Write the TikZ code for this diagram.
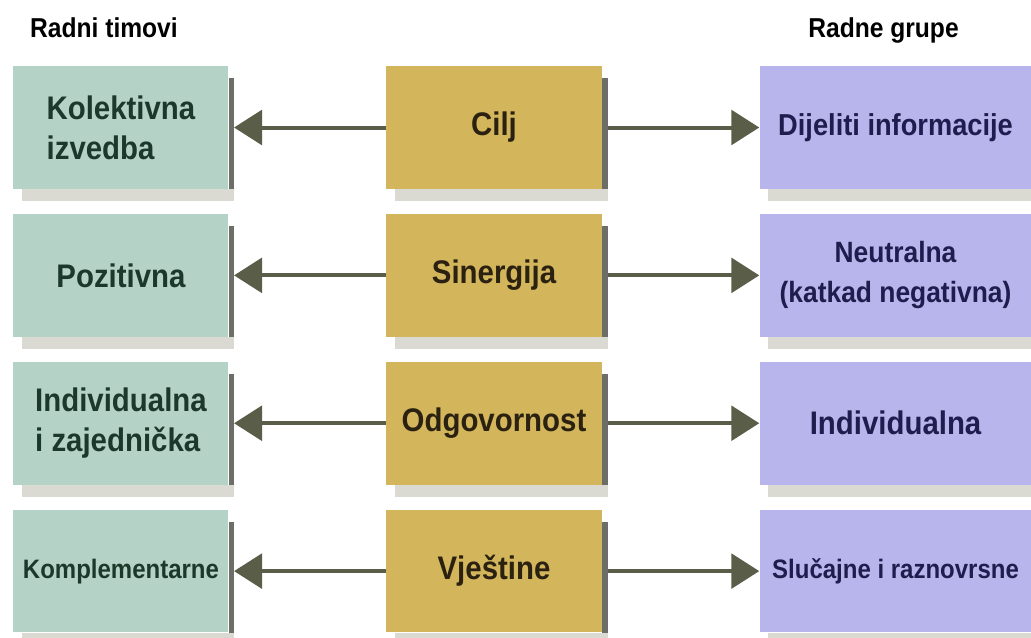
\documentclass[tikz,border=0pt]{standalone}
\usepackage{fontspec}
\setmainfont{Liberation Sans}[FakeStretch=0.9]
\usepackage{tikz}
\usetikzlibrary{arrows.meta, positioning, backgrounds}
\definecolor{teammint}{RGB}{180, 211, 198}
\definecolor{teamtext}{RGB}{28, 56, 42}
\definecolor{goalgold}{RGB}{211, 181, 92}
\definecolor{goaltext}{RGB}{43, 33, 16}
\definecolor{grouplav}{RGB}{183, 181, 236}
\definecolor{grouptext}{RGB}{31, 29, 77}
\definecolor{arrowgray}{RGB}{90, 93, 72}
\definecolor{shadelight}{RGB}{218, 217, 210}
\definecolor{shadedark}{RGB}{110, 110, 104}

\begin{document}
\begin{tikzpicture}[
    x=0.75pt, y=-0.75pt,
    node distance=18.5pt and 117.75pt,
    every node/.style={font=\bfseries\fontsize{24.5}{30}\selectfont, inner sep=0pt},
    teambox/.style={rectangle, fill=teammint, text=teamtext, minimum width=161.25pt, minimum height=92pt, align=left},
    goalbox/.style={rectangle, fill=goalgold, text=goaltext, minimum width=162pt, minimum height=92pt, align=center},
    groupbox/.style={rectangle, fill=grouplav, text=grouptext, minimum width=204pt, minimum height=92pt, align=center},
    header/.style={font=\bfseries\fontsize{20.5}{24}\selectfont, text depth=0pt},
    arrow/.style={-{Triangle[length=21pt, width=26pt]}, line width=3pt, arrowgray}
]
\useasboundingbox (0,0) rectangle (1031,637);

% middle column
\node[goalbox] (cilj) at (494,127.5) {Cilj};
\node[goalbox, below=of cilj] (sinergija) {Sinergija};
\node[goalbox, below=of sinergija] (odgovornost) {Odgovornost};
\node[goalbox, below=of odgovornost] (vjestine) {Vještine};

% radni timovi
\node[teambox, left=of cilj] (kolektivna) {Kolektivna\\izvedba};
\node[teambox, left=of sinergija] (pozitivna) {Pozitivna};
\node[teambox, left=of odgovornost] (indzaj) {Individualna\\i zajednička};
\node[teambox, left=of vjestine, font=\bfseries\fontsize{20}{24}\selectfont] (kompl) {Komplementarne};

% radne grupe
\node[groupbox, right=of cilj, font=\bfseries\fontsize{22.7}{28}\selectfont] (dijeliti) {Dijeliti informacije};
\node[groupbox, right=of sinergija, font=\bfseries\fontsize{22}{30}\selectfont] (neutralna) {Neutralna\\(katkad negativna)};
\node[groupbox, right=of odgovornost] (individualna) {Individualna};
\node[groupbox, right=of vjestine, font=\bfseries\fontsize{20}{24}\selectfont] (slucajne) {Slučajne i raznovrsne};

\node[header, above=21pt of kolektivna, xshift=-12.75pt] (timovi) {Radni timovi};
\node[header, above=21pt of dijeliti, xshift=-9pt] (grupe) {Radne grupe};

\begin{scope}[on background layer]
\foreach \b in {kolektivna, pozitivna, indzaj, kompl, cilj, sinergija, odgovornost, vjestine, dijeliti, neutralna, individualna, slucajne}{
  \fill[shadelight] ([xshift=6.75pt]\b.south west) rectangle ([xshift=4pt, yshift=-9pt]\b.south east);
  \fill[shadedark] ([yshift=-9pt]\b.north east) rectangle ([xshift=4pt]\b.south east);
}
\end{scope}

\draw[arrow] (cilj.west) -- ([xshift=4pt]kolektivna.east);
\draw[arrow] (sinergija.west) -- ([xshift=4pt]pozitivna.east);
\draw[arrow] (odgovornost.west) -- ([xshift=4pt]indzaj.east);
\draw[arrow] (vjestine.west) -- ([xshift=4pt]kompl.east);
\draw[arrow] ([xshift=4pt]cilj.east) -- (dijeliti.west);
\draw[arrow] ([xshift=4pt]sinergija.east) -- (neutralna.west);
\draw[arrow] ([xshift=4pt]odgovornost.east) -- (individualna.west);
\draw[arrow] ([xshift=4pt]vjestine.east) -- (slucajne.west);
\end{tikzpicture}
\end{document}
